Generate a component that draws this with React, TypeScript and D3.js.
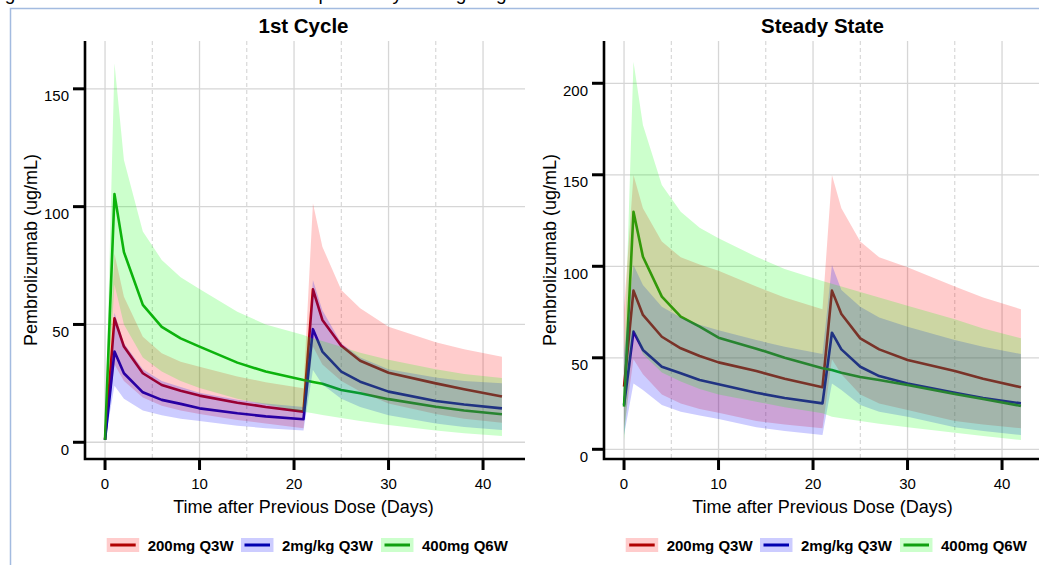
import React from 'react';
import * as d3 from 'd3';

// ---------- data ----------
const days = [0, 1, 2, 4, 6, 8, 10, 14, 17, 21, 22, 23, 25, 27, 30, 35, 38, 42];
const xTicks = [0, 10, 20, 30, 40];
const xMinorTicks = [5, 15, 25, 35];
const cycleYTicks = [0, 50, 100, 150];
const steadyYTicks = [0, 50, 100, 150, 200];
const regimens = ['200mg Q3W', '2mg/kg Q3W', '400mg Q6W'];
const panelTitles = ['1st Cycle', 'Steady State'];
const xTitle = 'Time after Previous Dose (Days)';
const yTitle = 'Pembrolizumab (ug/mL)';
const captionText = 'Figure 2: Simulated Pembrolizumab Exposure by Dosing Regimen';

// 1st cycle: 200mg Q3W
const c1RedMid = [1, 52.6, 40.6, 29.3, 24.3, 21.9, 19.8, 16.8, 15, 13, 64.9, 51.9, 41, 34.6, 29.5, 25, 22.5, 19.4];
const c1RedHi = [2, 80, 61.8, 44.8, 37.8, 34.2, 32, 27.9, 25.5, 22.9, 101.4, 83, 64.6, 56.9, 49, 42.5, 39.5, 36.3];
const c1RedLo = [0.5, 33, 26, 19, 15.5, 13.5, 12, 9.5, 8, 6, 40.6, 33, 26, 21.5, 16.5, 12, 10, 8.3];
// 1st cycle: 2mg/kg Q3W
const c1BlueMid = [1, 38.5, 29.3, 21.2, 18, 16.3, 14.4, 12.3, 11, 9.8, 48, 38.5, 30, 25.7, 21.5, 17.5, 16, 14.4];
const c1BlueHi = [2, 55, 42, 31, 26, 23.5, 21, 18, 16.5, 15, 68.9, 56, 42, 36, 31, 27.5, 26, 25];
const c1BlueLo = [0.5, 24, 18.5, 13.5, 11.5, 10, 9, 7, 6, 5, 30.7, 24.5, 18.5, 15, 11.5, 8, 6.5, 5.2];
// 1st cycle: 400mg Q6W
const c1GreenMid = [1, 105.3, 80.7, 58.3, 49, 44.1, 40.6, 33.8, 30, 26.4, 25.6, 24.8, 22.2, 20.8, 18.3, 15.1, 13.5, 11.9];
const c1GreenHi = [2, 160.9, 119.8, 89.4, 77.4, 70, 65, 55.4, 50, 45.5, 44, 43, 40.5, 38, 35, 31, 29, 27.3];
const c1GreenLo = [0.5, 67, 50, 36, 30, 26, 23, 18.5, 16, 13, 12.3, 11.6, 10.3, 9, 7.3, 5, 3.8, 2.7];

// steady state: 200mg Q3W
const ssRedMid = [34.2, 86.7, 73.4, 61.5, 55.2, 51, 47.5, 42.8, 38.5, 33.9, 86.7, 73.9, 60.6, 54.6, 48.8, 42.8, 38.5, 33.9];
const ssRedHi = [76.5, 149.9, 131.7, 113.5, 104.9, 101, 97.5, 88.9, 83, 76.5, 149.9, 131.7, 113.5, 104.9, 99.5, 88.9, 83, 76.5];
const ssRedLo = [11.5, 49.2, 41, 30, 25, 22, 20, 15.5, 13.5, 11.5, 49.2, 41, 30, 25, 21.5, 15.5, 13.5, 11.5];
// steady state: 2mg/kg Q3W
const ssBlueMid = [24.2, 64.3, 54.3, 45.1, 41.5, 37.9, 35.5, 30.9, 28, 25.1, 63.7, 54.6, 45.1, 40, 36, 30.9, 28, 25.1];
const ssBlueHi = [52.1, 100.7, 89.8, 77.9, 72, 68, 65, 59.7, 56, 52.1, 100.7, 87, 77.9, 72, 67, 59.7, 56, 52.1];
const ssBlueLo = [7.8, 36, 32.4, 24.2, 20.5, 18.5, 16.5, 12, 10, 7.8, 36, 32.4, 24.2, 20.5, 17.8, 12, 10, 7.8];
// steady state: 400mg Q6W
const ssGreenMid = [23.3, 129.8, 105.2, 83.4, 72.5, 67, 61, 55, 50, 44.3, 43.3, 41.8, 39.5, 37.9, 35.1, 30.2, 27.5, 23.7];
const ssGreenHi = [45, 211.8, 177.2, 144.4, 129.8, 121, 115.3, 105.2, 98.5, 92, 90.5, 89, 86, 83, 78.5, 71, 66, 60.7];
const ssGreenLo = [5, 65, 52, 42, 37, 33, 30, 26, 23, 19.7, 17.8, 17, 15.5, 14, 12, 9, 7.2, 5.1];

// ---------- styling ----------
const FONT = '"Liberation Sans", Arial, Helvetica, sans-serif';
const lineColors = ['#b00000', '#0000b0', '#10a010'];
const bandColors = ['rgba(255,0,0,0.2)', 'rgba(0,0,255,0.2)', 'rgba(0,255,0,0.2)'];
const legendSwatchX = [106.7, 241, 381];
const legendTextX = [147.7, 282, 422];

type Series = { mid: number[]; lo: number[]; hi: number[] };

function Panel(props: { ox: number; title: string; yDomain: [number, number]; yTicks: number[]; series: Series[] }) {
  const { ox, title, yDomain, yTicks, series } = props;
  const left = ox + 85;
  const right = ox + 525;
  const top = 41;
  const bottom = 459;
  const x = d3.scaleLinear().domain([-2.12, 44.44]).range([left, right]);
  const y = d3.scaleLinear().domain(yDomain).range([bottom, top]);

  const line = (vals: number[]) =>
    d3.line<number>().x((_, i) => x(days[i])).y((v) => y(v))(vals) || '';
  const area = (lo: number[], hi: number[]) =>
    d3
      .area<number>()
      .x((_, i) => x(days[i]))
      .y0((_, i) => y(lo[i]))
      .y1((_, i) => y(hi[i]))(days.map((_, i) => i)) || '';

  return (
    <g>
      {/* grid */}
      {xMinorTicks.map((t) => (
        <line key={'mx' + t} x1={x(t)} x2={x(t)} y1={top} y2={bottom} stroke="#d0d0d0" strokeWidth={1} strokeDasharray="4,3" />
      ))}
      {xTicks.map((t) => (
        <line key={'gx' + t} x1={x(t)} x2={x(t)} y1={top} y2={bottom} stroke="#d6d6d6" strokeWidth={1.3} />
      ))}
      {yTicks.map((t) => (
        <line key={'gy' + t} x1={left} x2={right} y1={y(t)} y2={y(t)} stroke="#d6d6d6" strokeWidth={1.3} />
      ))}
      {/* median lines (under the bands) */}
      {series.map((s, k) => (
        <path key={'l' + k} d={line(s.mid)} fill="none" stroke={lineColors[k]} strokeWidth={2.6} strokeLinejoin="round" />
      ))}
      {/* 90% bands */}
      {series.map((s, k) => (
        <path key={'b' + k} d={area(s.lo, s.hi)} fill={bandColors[k]} stroke="none" />
      ))}
      {/* axes */}
      <path d={`M${left},${top} V${bottom} H${right}`} fill="none" stroke="#000" strokeWidth={2.6} />
      {yTicks.map((t) => (
        <g key={'yt' + t}>
          <line x1={left - 12} x2={left} y1={y(t)} y2={y(t)} stroke="#000" strokeWidth={3} />
          <text x={left - 16} y={y(t) + 12.5} textAnchor="end" fontSize={15} fontFamily={FONT} fill="#000">
            {t}
          </text>
        </g>
      ))}
      {xTicks.map((t) => (
        <g key={'xt' + t}>
          <line x1={x(t)} x2={x(t)} y1={bottom} y2={bottom + 11} stroke="#000" strokeWidth={3} />
          <text x={x(t)} y={488.5} textAnchor="middle" fontSize={15} fontFamily={FONT} fill="#000">
            {t}
          </text>
        </g>
      ))}
      {/* titles */}
      <text x={ox + 303.5} y={32.5} textAnchor="middle" fontSize={20.5} fontWeight="bold" fontFamily={FONT} fill="#000">
        {title}
      </text>
      <text x={ox + 303.5} y={513} textAnchor="middle" fontSize={18} fontFamily={FONT} fill="#000">
        {xTitle}
      </text>
      <text transform={`translate(${ox + 36.5},250) rotate(-90)`} textAnchor="middle" fontSize={18} fontFamily={FONT} fill="#000">
        {yTitle}
      </text>
      {/* legend */}
      {regimens.map((r, k) => (
        <g key={'lg' + k}>
          <rect x={ox + legendSwatchX[k]} y={538} width={32.5} height={14} fill={bandColors[k]} />
          <line x1={ox + legendSwatchX[k] + 3.5} x2={ox + legendSwatchX[k] + 29} y1={545} y2={545} stroke={lineColors[k]} strokeWidth={3} />
          <text x={ox + legendTextX[k]} y={551} fontSize={15} fontWeight="bold" fontFamily={FONT} fill="#000">
            {r}
          </text>
        </g>
      ))}
    </g>
  );
}

export default function App() {
  const cycleSeries: Series[] = [
    { mid: c1RedMid, lo: c1RedLo, hi: c1RedHi },
    { mid: c1BlueMid, lo: c1BlueLo, hi: c1BlueHi },
    { mid: c1GreenMid, lo: c1GreenLo, hi: c1GreenHi },
  ];
  const steadySeries: Series[] = [
    { mid: ssRedMid, lo: ssRedLo, hi: ssRedHi },
    { mid: ssBlueMid, lo: ssBlueLo, hi: ssBlueHi },
    { mid: ssGreenMid, lo: ssGreenLo, hi: ssGreenHi },
  ];
  return (
    <svg
      width={1039}
      height={565}
      viewBox="0 0 1039 565"
      style={{ position: 'absolute', left: 0, top: 0, background: '#fff', display: 'block' }}
    >
      <rect x={0} y={0} width={1039} height={565} fill="#fff" />
      <text x={-11} y={-0.5} fontSize={19} fontFamily={FONT} fill="#000">
        {captionText}
      </text>
      <path d="M10.5,565 V8.5 H1039" fill="none" stroke="#a3bbe0" strokeWidth={1.5} />
      <Panel ox={0} title={panelTitles[0]} yDomain={[-7.1, 170.3]} yTicks={cycleYTicks} series={cycleSeries} />
      <Panel ox={519} title={panelTitles[1]} yDomain={[-5.3, 223.1]} yTicks={steadyYTicks} series={steadySeries} />
    </svg>
  );
}
